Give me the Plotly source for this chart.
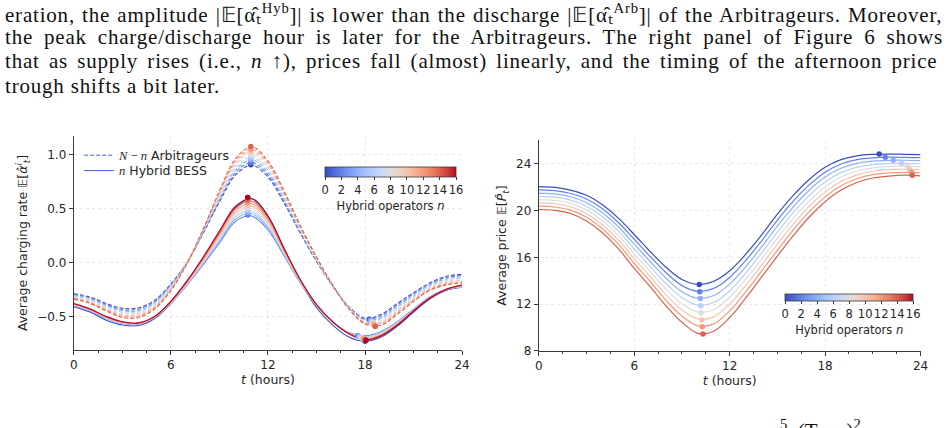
import plotly.graph_objects as go

# ---------------- data ----------------
hours = list(range(25))

# Left panel: average charging rate, N-n Arbitrageurs (dashed), by n
arb_n = [0, 2, 4, 6, 8, 10, 12, 14]
arb_n0 = [-0.290, -0.320, -0.380, -0.425, -0.420, -0.350, -0.200, 0.000, 0.270, 0.560, 0.810, 0.900, 0.790, 0.550, 0.270, 0.010, -0.220, -0.410, -0.520, -0.480, -0.380, -0.280, -0.190, -0.130, -0.110]
arb_n2 = [-0.297, -0.329, -0.390, -0.437, -0.433, -0.361, -0.209, -0.001, 0.276, 0.574, 0.831, 0.924, 0.811, 0.566, 0.280, 0.016, -0.219, -0.413, -0.527, -0.494, -0.394, -0.291, -0.200, -0.141, -0.121]
arb_n4 = [-0.304, -0.337, -0.400, -0.449, -0.446, -0.373, -0.217, -0.003, 0.281, 0.589, 0.853, 0.949, 0.833, 0.581, 0.290, 0.021, -0.217, -0.416, -0.534, -0.509, -0.409, -0.303, -0.210, -0.153, -0.133]
arb_n6 = [-0.311, -0.346, -0.410, -0.461, -0.459, -0.384, -0.226, -0.004, 0.287, 0.603, 0.874, 0.973, 0.854, 0.597, 0.300, 0.027, -0.216, -0.419, -0.541, -0.523, -0.423, -0.314, -0.220, -0.164, -0.144]
arb_n8 = [-0.319, -0.354, -0.420, -0.474, -0.471, -0.396, -0.234, -0.006, 0.293, 0.617, 0.896, 0.997, 0.876, 0.613, 0.310, 0.033, -0.214, -0.421, -0.549, -0.537, -0.437, -0.326, -0.230, -0.176, -0.156]
arb_n10 = [-0.326, -0.363, -0.430, -0.486, -0.484, -0.407, -0.243, -0.007, 0.299, 0.631, 0.917, 1.021, 0.897, 0.629, 0.320, 0.039, -0.213, -0.424, -0.556, -0.551, -0.451, -0.337, -0.240, -0.187, -0.167]
arb_n12 = [-0.333, -0.371, -0.440, -0.498, -0.497, -0.419, -0.251, -0.009, 0.304, 0.646, 0.939, 1.046, 0.919, 0.644, 0.330, 0.044, -0.211, -0.427, -0.563, -0.566, -0.466, -0.349, -0.250, -0.199, -0.179]
arb_n14 = [-0.340, -0.380, -0.450, -0.510, -0.510, -0.430, -0.260, -0.010, 0.310, 0.660, 0.960, 1.070, 0.940, 0.660, 0.340, 0.050, -0.210, -0.430, -0.570, -0.580, -0.480, -0.360, -0.260, -0.210, -0.190]

arb_peak_t = [10.94, 10.94, 10.94, 10.94, 10.94, 10.94, 10.94, 10.94]
arb_peak_v = [0.905, 0.928, 0.952, 0.976, 1.000, 1.024, 1.048, 1.072]
arb_trough_t = [18.26, 18.31, 18.36, 18.42, 18.47, 18.52, 18.58, 18.63]
arb_trough_v = [-0.527, -0.533, -0.540, -0.548, -0.557, -0.566, -0.579, -0.594]

# Left panel: n Hybrid BESS (solid), by n
hyb_n = [0, 2, 4, 6, 8, 10, 12, 14, 16]
hyb_n0 = [-0.410, -0.460, -0.535, -0.580, -0.585, -0.520, -0.380, -0.190, 0.040, 0.280, 0.510, 0.590, 0.430, 0.120, -0.180, -0.420, -0.580, -0.690, -0.730, -0.690, -0.590, -0.460, -0.340, -0.260, -0.230]
hyb_n2 = [-0.400, -0.450, -0.520, -0.565, -0.570, -0.510, -0.380, -0.210, -0.020, 0.180, 0.380, 0.430, 0.300, 0.060, -0.190, -0.400, -0.550, -0.650, -0.680, -0.640, -0.550, -0.430, -0.320, -0.250, -0.230]
hyb_n4 = [-0.397, -0.447, -0.517, -0.563, -0.569, -0.509, -0.377, -0.204, -0.010, 0.196, 0.400, 0.453, 0.319, 0.070, -0.186, -0.399, -0.550, -0.651, -0.686, -0.646, -0.554, -0.433, -0.321, -0.250, -0.227]
hyb_n6 = [-0.394, -0.444, -0.514, -0.561, -0.567, -0.507, -0.374, -0.199, 0.000, 0.211, 0.420, 0.476, 0.337, 0.080, -0.181, -0.397, -0.550, -0.653, -0.691, -0.651, -0.559, -0.436, -0.323, -0.250, -0.224]
hyb_n8 = [-0.391, -0.441, -0.511, -0.559, -0.566, -0.506, -0.371, -0.193, 0.010, 0.227, 0.440, 0.499, 0.356, 0.090, -0.177, -0.396, -0.550, -0.654, -0.697, -0.657, -0.563, -0.439, -0.324, -0.250, -0.221]
hyb_n10 = [-0.389, -0.439, -0.509, -0.556, -0.564, -0.504, -0.369, -0.187, 0.020, 0.243, 0.460, 0.521, 0.374, 0.100, -0.173, -0.394, -0.550, -0.656, -0.703, -0.663, -0.567, -0.441, -0.326, -0.250, -0.219]
hyb_n12 = [-0.386, -0.436, -0.506, -0.554, -0.563, -0.503, -0.366, -0.181, 0.030, 0.259, 0.480, 0.544, 0.393, 0.110, -0.169, -0.393, -0.550, -0.657, -0.709, -0.669, -0.571, -0.444, -0.327, -0.250, -0.216]
hyb_n14 = [-0.383, -0.433, -0.503, -0.552, -0.561, -0.501, -0.363, -0.176, 0.040, 0.274, 0.500, 0.567, 0.411, 0.120, -0.164, -0.391, -0.550, -0.659, -0.714, -0.674, -0.576, -0.447, -0.329, -0.250, -0.213]
hyb_n16 = [-0.380, -0.430, -0.500, -0.550, -0.560, -0.500, -0.360, -0.170, 0.050, 0.290, 0.520, 0.590, 0.430, 0.130, -0.160, -0.390, -0.550, -0.660, -0.720, -0.680, -0.580, -0.450, -0.330, -0.250, -0.210]

hyb_peak_t = [10.75, 10.75, 10.75, 10.75, 10.75, 10.75, 10.75, 10.75, 10.75]
hyb_peak_v = [0.600, 0.440, 0.462, 0.485, 0.508, 0.530, 0.553, 0.577, 0.600]
hyb_trough_t = [18.00, 17.55, 17.62, 17.70, 17.78, 17.85, 17.92, 18.00, 18.06]
hyb_trough_v = [-0.730, -0.680, -0.686, -0.692, -0.698, -0.704, -0.710, -0.715, -0.720]

# Right panel: average price, by n
price_n = [0, 2, 4, 6, 8, 10, 12, 14]
price_n0 = [22.05, 21.98, 21.75, 21.30, 20.50, 19.35, 17.95, 16.50, 15.15, 14.10, 13.68, 13.95, 14.85, 16.25, 17.90, 19.70, 21.30, 22.65, 23.70, 24.35, 24.68, 24.80, 24.83, 24.81, 24.78]
price_n2 = [21.77, 21.70, 21.46, 20.99, 20.16, 18.98, 17.54, 16.07, 14.68, 13.58, 13.09, 13.34, 14.28, 15.71, 17.39, 19.19, 20.81, 22.19, 23.28, 23.98, 24.35, 24.51, 24.56, 24.55, 24.52]
price_n4 = [21.49, 21.42, 21.18, 20.67, 19.81, 18.61, 17.12, 15.64, 14.21, 13.06, 12.50, 12.74, 13.71, 15.18, 16.87, 18.67, 20.31, 21.74, 22.86, 23.61, 24.03, 24.22, 24.29, 24.30, 24.26]
price_n6 = [21.21, 21.14, 20.89, 20.36, 19.47, 18.24, 16.71, 15.21, 13.74, 12.54, 11.91, 12.13, 13.14, 14.64, 16.36, 18.16, 19.82, 21.28, 22.44, 23.24, 23.70, 23.93, 24.02, 24.04, 24.00]
price_n8 = [20.93, 20.86, 20.61, 20.04, 19.13, 17.87, 16.29, 14.78, 13.27, 12.02, 11.32, 11.52, 12.57, 14.11, 15.84, 17.64, 19.33, 20.82, 22.02, 22.87, 23.38, 23.64, 23.75, 23.79, 23.74]
price_n10 = [20.65, 20.58, 20.32, 19.73, 18.79, 17.49, 15.88, 14.36, 12.79, 11.49, 10.73, 10.91, 11.99, 13.57, 15.33, 17.13, 18.84, 20.36, 21.59, 22.49, 23.05, 23.36, 23.49, 23.53, 23.49]
price_n12 = [20.37, 20.30, 20.03, 19.42, 18.44, 17.12, 15.47, 13.93, 12.32, 10.97, 10.14, 10.31, 11.42, 13.04, 14.81, 16.61, 18.34, 19.91, 21.17, 22.12, 22.72, 23.07, 23.22, 23.27, 23.23]
price_n14 = [20.09, 20.02, 19.75, 19.10, 18.10, 16.75, 15.05, 13.50, 11.85, 10.45, 9.50, 9.68, 10.85, 12.50, 14.30, 16.10, 17.85, 19.45, 20.75, 21.75, 22.40, 22.78, 22.95, 23.02, 22.97]

price_min_t = [10.09, 10.12, 10.15, 10.18, 10.20, 10.24, 10.28, 10.32]
price_min_v = [13.67, 13.05, 12.47, 11.85, 11.26, 10.65, 10.06, 9.45]
price_max_t = [21.40, 21.78, 22.28, 22.82, 23.17, 23.30, 23.45, 23.48]
price_max_v = [24.84, 24.56, 24.30, 24.05, 23.79, 23.53, 23.27, 23.02]

hour_ticks = [0, 6, 12, 18, 24]
rate_ticks = [-0.5, 0.0, 0.5, 1.0]
rate_ticktext = ["\u22120.5", "0.0", "0.5", "1.0"]
price_ticks = [8, 12, 16, 20, 24]
cbar_ticks = [0, 2, 4, 6, 8, 10, 12, 14, 16]

text_lines = [
    "eration, the amplitude |\U0001D53C[\u03b1\u0302\u209c<sup>Hyb</sup>]| is lower than the discharge |\U0001D53C[\u03b1\u0302\u209c<sup>Arb</sup>]| of the Arbitrageurs. Moreover,",
    "the peak charge/discharge hour is later for the Arbitrageurs. The right panel of Figure 6 shows",
    "that as supply rises (i.e., <i>n</i> \u2191), prices fall (almost) linearly, and the timing of the afternoon price",
    "trough shifts a bit later.",
]

# ---------------- style ----------------
COOLWARM = [
    (59, 76, 192), (68, 90, 204), (77, 104, 215), (87, 117, 225), (98, 130, 234),
    (108, 142, 241), (119, 154, 247), (130, 165, 251), (141, 176, 254), (152, 185, 255),
    (163, 194, 255), (174, 201, 253), (184, 208, 249), (194, 213, 244), (204, 217, 238),
    (213, 219, 230), (221, 221, 221), (229, 216, 209), (236, 211, 197), (241, 204, 185),
    (245, 196, 173), (247, 187, 160), (247, 177, 148), (247, 166, 135), (244, 154, 123),
    (241, 141, 111), (236, 127, 99), (229, 112, 88), (222, 96, 77), (213, 80, 66),
    (203, 62, 56), (192, 40, 47), (180, 4, 38),
]
colorscale = [[i / 32, "rgb(%d,%d,%d)" % c] for i, c in enumerate(COOLWARM)]


def col(n):
    return "rgb(%d,%d,%d)" % COOLWARM[int(round(n / 16 * 32))]


W, H = 947, 428
FONT = "DejaVu Sans"
INK = "#262626"
AX = "#3a3a3a"


def px_x(p):
    return p / W


def px_y(p):
    return 1 - p / H


fig = go.Figure()

ARB = [arb_n0, arb_n2, arb_n4, arb_n6, arb_n8, arb_n10, arb_n12, arb_n14]
HYB = [hyb_n0, hyb_n2, hyb_n4, hyb_n6, hyb_n8, hyb_n10, hyb_n12, hyb_n14, hyb_n16]
PRICE = [price_n0, price_n2, price_n4, price_n6, price_n8, price_n10, price_n12, price_n14]

for n, ys in zip(hyb_n, HYB):
    fig.add_trace(go.Scatter(x=hours, y=ys, mode="lines", line=dict(color=col(n), width=1.1, shape="spline"),
                             showlegend=False, xaxis="x", yaxis="y", hoverinfo="skip"))
for n, ys in zip(arb_n, ARB):
    fig.add_trace(go.Scatter(x=hours, y=ys, mode="lines", line=dict(color=col(n), width=1.1, dash="4px,2px", shape="spline"),
                             showlegend=False, xaxis="x", yaxis="y", hoverinfo="skip"))
fig.add_trace(go.Scatter(x=arb_peak_t + arb_trough_t, y=arb_peak_v + arb_trough_v, mode="markers",
                         marker=dict(color=[col(n) for n in arb_n + arb_n], size=5.5, line=dict(width=0)),
                         showlegend=False, xaxis="x", yaxis="y"))
fig.add_trace(go.Scatter(x=hyb_peak_t + hyb_trough_t, y=hyb_peak_v + hyb_trough_v, mode="markers",
                         marker=dict(color=[col(n) for n in hyb_n + hyb_n], size=5.5, line=dict(width=0)),
                         showlegend=False, xaxis="x", yaxis="y"))

for n, ys in zip(price_n, PRICE):
    fig.add_trace(go.Scatter(x=hours, y=ys, mode="lines", line=dict(color=col(n), width=1.2, shape="spline"),
                             showlegend=False, xaxis="x2", yaxis="y2", hoverinfo="skip"))
fig.add_trace(go.Scatter(x=price_min_t + price_max_t, y=price_min_v + price_max_v, mode="markers",
                         marker=dict(color=[col(n) for n in price_n + price_n], size=5.5, line=dict(width=0)),
                         showlegend=False, xaxis="x2", yaxis="y2"))

# legend entries
fig.add_trace(go.Scatter(x=[None], y=[None], mode="lines", line=dict(color="rgb(84,110,222)", width=1.1, dash="4px,2px"),
                         name="<span style='font-family:\"Liberation Serif\"'><i>N</i> \u2212 <i>n</i></span> Arbitrageurs",
                         legend="legend", xaxis="x", yaxis="y"))
fig.add_trace(go.Scatter(x=[None], y=[None], mode="lines", line=dict(color="rgb(84,110,222)", width=1.1),
                         name="<span style='font-family:\"Liberation Serif\"'><i>n</i></span> Hybrid BESS",
                         legend="legend2", xaxis="x", yaxis="y"))


def cbar_trace(xa, ya, cx, top, length, thick):
    return go.Scatter(
        x=[None, None], y=[None, None], mode="markers", xaxis=xa, yaxis=ya, showlegend=False,
        marker=dict(color=[0, 16], cmin=0, cmax=16, colorscale=colorscale, showscale=True, size=1,
                    colorbar=dict(orientation="h", x=px_x(cx), xanchor="center", y=px_y(top), yanchor="top",
                                  len=length, lenmode="pixels", thickness=thick, thicknessmode="pixels",
                                  outlinewidth=0.8, outlinecolor=AX, xpad=0, ypad=0,
                                  tickvals=cbar_ticks, ticks="outside", ticklen=3, tickcolor=AX, tickangle=0,
                                  tickfont=dict(family=FONT, size=11.5, color=INK),
                                  title=dict(text="Hybrid operators <i>n</i>", side="bottom",
                                             font=dict(family=FONT, size=11.5, color=INK)))))


fig.add_trace(cbar_trace("x", "y", 391.5, 169.3, 131, 10))
fig.add_trace(cbar_trace("x2", "y2", 856, 298.5, 128, 7))

axis_common = dict(showline=True, linecolor=AX, linewidth=1.2, ticks="outside", ticklen=4, tickwidth=1,
                   tickcolor=AX, tickfont=dict(family=FONT, size=12, color=INK), showgrid=True,
                   gridcolor="rgba(0,0,0,0.09)", gridwidth=0.8, griddash="dot", zeroline=False, mirror=False)
xminor = dict(dtick=1.5, ticks="outside", ticklen=2, tickcolor=AX, showgrid=False)

fig.update_layout(
    width=W, height=H, margin=dict(l=0, r=0, t=0, b=0),
    paper_bgcolor="white", plot_bgcolor="white",
    font=dict(family=FONT, color=INK),
    xaxis=dict(domain=[px_x(70.7), px_x(464)], range=[0, 24], tickvals=hour_ticks, minor=xminor,
               title=dict(text="<i>t</i> (hours)", font=dict(size=12.5), standoff=3), anchor="y", **axis_common),
    yaxis=dict(domain=[px_y(355.7), px_y(138.3)], range=[-0.81, 1.17], tickvals=rate_ticks, ticktext=rate_ticktext,
               title=dict(text="Average charging rate \U0001D53C[<i>\u03b1\u0302</i><sup><i>i</i></sup><sub><i>t</i></sub>]",
                          font=dict(size=12.5), standoff=6), anchor="x", **axis_common),
    xaxis2=dict(domain=[px_x(541.7), px_x(928.3)], range=[0, 24], tickvals=hour_ticks, minor=xminor,
                title=dict(text="<i>t</i> (hours)", font=dict(size=12.5), standoff=3), anchor="y2", **axis_common),
    yaxis2=dict(domain=[px_y(356.7), px_y(142.7)], range=[8, 26], tickvals=price_ticks,
                title=dict(text="Average price \U0001D53C[<i>P\u0302</i><sub><i>t</i></sub>]",
                           font=dict(size=12.5), standoff=6), anchor="x2", **axis_common),
    legend=dict(x=px_x(76), y=px_y(143), xanchor="left", yanchor="top", bgcolor="rgba(0,0,0,0)",
                font=dict(family=FONT, size=12.5, color=INK), itemwidth=30),
    legend2=dict(x=px_x(76), y=px_y(158.5), xanchor="left", yanchor="top", bgcolor="rgba(0,0,0,0)",
                 font=dict(family=FONT, size=12.5, color=INK), itemwidth=30),
)

# paragraph text (above and below the figure)
line_y = [13.5, 38.0, 62.5, 87.0]
spacing = [("0.8px", "1.1px"), ("0.8px", "4.9px"), ("0.8px", "3.2px"), ("0.8px", "0px")]
for txt, yy, (ls, ws) in zip(text_lines, line_y, spacing):
    fig.add_annotation(text="<span style='letter-spacing:%s;word-spacing:%s'>%s</span>" % (ls, ws, txt),
                       xref="paper", yref="paper",
                       x=px_x(-1), y=px_y(yy), xanchor="left", yanchor="middle", showarrow=False,
                       font=dict(family="Liberation Serif", size=21, color="#111"))
fig.add_annotation(text="<sup>5</sup>  (Type)<sup>2</sup>", xref="paper", yref="paper", x=px_x(784), y=px_y(421),
                   xanchor="left", yanchor="top", showarrow=False,
                   font=dict(family="Liberation Serif", size=21, color="#111"))

fig.write_html("out.html")
